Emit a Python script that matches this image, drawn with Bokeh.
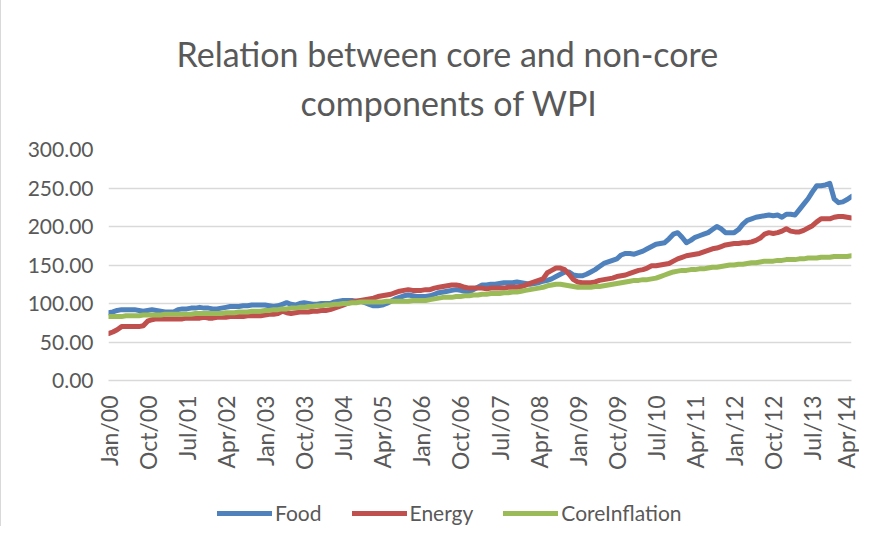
from bokeh.plotting import figure
from bokeh.models import (ColumnDataSource, FixedTicker, NumeralTickFormatter,
                          Legend, LegendItem, Range1d, Title)
from bokeh.layouts import column
from bokeh.embed import file_html
from bokeh.resources import INLINE
from math import pi

# ---- data (monthly, Jan/00 .. Apr/14) ----
tick_labels = ["Jan/00", "Oct/00", "Jul/01", "Apr/02", "Jan/03", "Oct/03", "Jul/04",
               "Apr/05", "Jan/06", "Oct/06", "Jul/07", "Apr/08", "Jan/09", "Oct/09",
               "Jul/10", "Apr/11", "Jan/12", "Oct/12", "Jul/13", "Apr/14"]
y_ticks = [0, 50, 100, 150, 200, 250, 300]
series_names = ["Food", "Energy", "CoreInflation"]
title_lines = ["Relation between core and non-core", "components of WPI"]

food = [
    88, 89, 91, 92, 92, 92, 92, 91, 90, 91, 92, 91,
    90, 89, 89, 89, 92, 93, 93, 94, 94, 95, 94, 94,
    93, 93, 94, 95, 96, 96, 96, 97, 97, 98, 98, 98,
    98, 97, 96, 97, 99, 101, 99, 98, 100, 101, 100, 99,
    99, 100, 100, 100, 102, 103, 104, 104, 104, 103, 103, 101,
    99, 97, 97, 98, 100, 103, 106, 108, 110, 111, 110, 109,
    109, 109, 110, 112, 114, 115, 116, 117, 118, 117, 116, 115,
    118, 121, 124, 124, 125, 125, 126, 127, 127, 127, 128, 127,
    126, 125, 126, 127, 129, 130, 132, 135, 138, 141, 141, 137,
    136, 136, 138, 141, 144, 148, 152, 154, 156, 158, 163, 165,
    165, 164, 166, 168, 171, 174, 177, 178, 179, 184, 190, 192,
    186, 179, 182, 186, 188, 190, 192, 196, 200, 197, 192, 192,
    192, 196, 203, 208, 210, 212, 213, 214, 215, 214, 215, 212,
    216, 216, 215, 222, 229, 236, 245, 253, 253, 254, 256, 236,
    231, 232, 235, 239,
]
energy = [
    61, 63, 66, 70, 70, 70, 70, 70, 71, 77, 79, 80,
    80, 80, 80, 80, 80, 80, 81, 81, 81, 81, 82, 81,
    81, 82, 82, 82, 83, 83, 83, 83, 84, 84, 84, 84,
    85, 86, 86, 87, 90, 88, 87, 88, 89, 89, 89, 90,
    90, 91, 91, 92, 94, 96, 98, 100, 102, 103, 104, 105,
    106, 107, 109, 110, 111, 112, 114, 116, 117, 118, 117, 117,
    117, 118, 118, 120, 121, 122, 123, 124, 124, 123, 121, 120,
    120, 120, 120, 119, 120, 120, 120, 120, 121, 121, 121, 122,
    124, 126, 128, 130, 132, 140, 143, 146, 146, 144, 138, 131,
    128, 127, 127, 127, 128, 130, 131, 132, 133, 135, 136, 137,
    139, 141, 143, 144, 146, 149, 149, 150, 151, 152, 155, 158,
    160, 162, 163, 164, 165, 167, 169, 171, 172, 174, 176, 177,
    178, 178, 179, 179, 180, 182, 185, 190, 192, 191, 192, 194,
    197, 194, 193, 193, 195, 198, 201, 206, 210, 210, 210, 212,
    213, 213, 212, 211,
]
core = [
    83, 83, 83, 83, 84, 84, 84, 84, 85, 85, 85, 85,
    85, 86, 86, 86, 86, 86, 86, 86, 87, 87, 87, 87,
    87, 87, 87, 88, 88, 88, 89, 89, 89, 90, 90, 90,
    91, 91, 92, 92, 93, 93, 94, 94, 95, 95, 96, 96,
    97, 97, 98, 98, 99, 99, 100, 100, 101, 101, 102, 102,
    102, 102, 102, 102, 103, 103, 103, 103, 103, 103, 104, 104,
    104, 104, 105, 106, 107, 108, 108, 108, 109, 109, 110, 110,
    111, 111, 112, 112, 113, 113, 113, 114, 114, 115, 115, 116,
    117, 118, 119, 120, 121, 123, 124, 125, 125, 124, 123, 122,
    121, 121, 121, 121, 122, 122, 123, 124, 125, 126, 127, 128,
    129, 130, 130, 131, 131, 132, 133, 135, 137, 139, 141, 142,
    143, 143, 144, 144, 145, 145, 146, 147, 147, 148, 149, 150,
    150, 151, 151, 152, 153, 153, 154, 155, 155, 155, 156, 156,
    157, 157, 157, 158, 158, 159, 159, 159, 160, 160, 160, 161,
    161, 161, 161, 162,
]

colors = ["#4F81BD", "#C0504D", "#9BBB59"]
FONT = "Lato"
TXT = "#595959"
LW = 5

months = list(range(len(food)))
src = ColumnDataSource(dict(m=months, food=food, energy=energy, core=core))
step = (len(food) - 1) // (len(tick_labels) - 1)
tick_pos = [k * step for k in range(len(tick_labels))]

# ---- main chart ----
p = figure(width=858, height=490, output_backend="svg", toolbar_location=None,
           title=None,
           x_range=Range1d(0, len(food) - 1), y_range=Range1d(0, 300),
           min_border_left=107, min_border_right=8, min_border_top=149,
           min_border_bottom=110)
# first added = closest to the plot
p.add_layout(Title(text=title_lines[1], align="left", offset=192,
                   text_font=FONT, text_font_size="34px",
                   text_font_style="normal", text_color=TXT, standoff=54),
             "above")
p.add_layout(Title(text=title_lines[0], align="left", offset=68,
                   text_font=FONT, text_font_size="34px",
                   text_font_style="normal", text_color=TXT, standoff=-43),
             "above")
p.outline_line_color = None
p.background_fill_color = "white"
p.border_fill_color = "white"

p.xaxis.ticker = FixedTicker(ticks=tick_pos)
p.xaxis.major_label_overrides = {t: l for t, l in zip(tick_pos, tick_labels)}
p.xaxis.major_label_orientation = pi / 2
p.xaxis.axis_line_color = "#d9d9d9"
p.xaxis.axis_line_width = 1.5
p.xaxis.major_tick_line_color = None
p.xaxis.minor_tick_line_color = None
p.xaxis.major_label_standoff = 9
p.xaxis.major_label_text_font = FONT
p.xaxis.major_label_text_font_size = "23px"
p.xaxis.major_label_text_color = TXT

p.yaxis.ticker = FixedTicker(ticks=y_ticks)
p.yaxis.formatter = NumeralTickFormatter(format="0.00")
p.yaxis.axis_line_color = None
p.yaxis.major_tick_line_color = None
p.yaxis.minor_tick_line_color = None
p.yaxis.major_label_standoff = 9
p.yaxis.major_label_text_font = FONT
p.yaxis.major_label_text_font_size = "21px"
p.yaxis.major_label_text_color = TXT

p.xgrid.grid_line_color = None
p.ygrid.grid_line_color = "#d9d9d9"
p.ygrid.grid_line_width = 1.5

cols = ["food", "energy", "core"]
for c, col in zip(colors, cols):
    p.line("m", col, source=src, line_color=c, line_width=LW,
           line_join="round", line_cap="round")

# ---- legend strip below the chart ----
lg = figure(width=858, height=36, output_backend="svg", toolbar_location=None,
            x_range=Range1d(0, 1), y_range=Range1d(0, 1),
            x_axis_location=None, y_axis_location=None,
            min_border_left=0, min_border_right=0, min_border_top=0,
            min_border_bottom=0)
lg.outline_line_color = None
lg.xgrid.grid_line_color = None
lg.ygrid.grid_line_color = None
items = []
for c, name in zip(colors, series_names):
    # keys drawn by the legend; the line itself lies outside the visible range
    r = lg.line(x=[0, 1], y=[-5, -5], line_color=c, line_width=LW, line_cap="round")
    items.append(LegendItem(label=name, renderers=[r]))
legend = Legend(items=items, orientation="horizontal", location=(109, 1),
                glyph_width=55, glyph_height=22, label_standoff=3, spacing=30,
                label_text_font=FONT, label_text_font_size="21px",
                label_text_color=TXT, border_line_color=None,
                background_fill_alpha=0, padding=0, margin=0)
lg.add_layout(legend, "center")

layout = column(p, lg, spacing=0, styles={"border-left": "1px solid #d9d9d9"})
open("out.html", "w").write(file_html(layout, INLINE))
